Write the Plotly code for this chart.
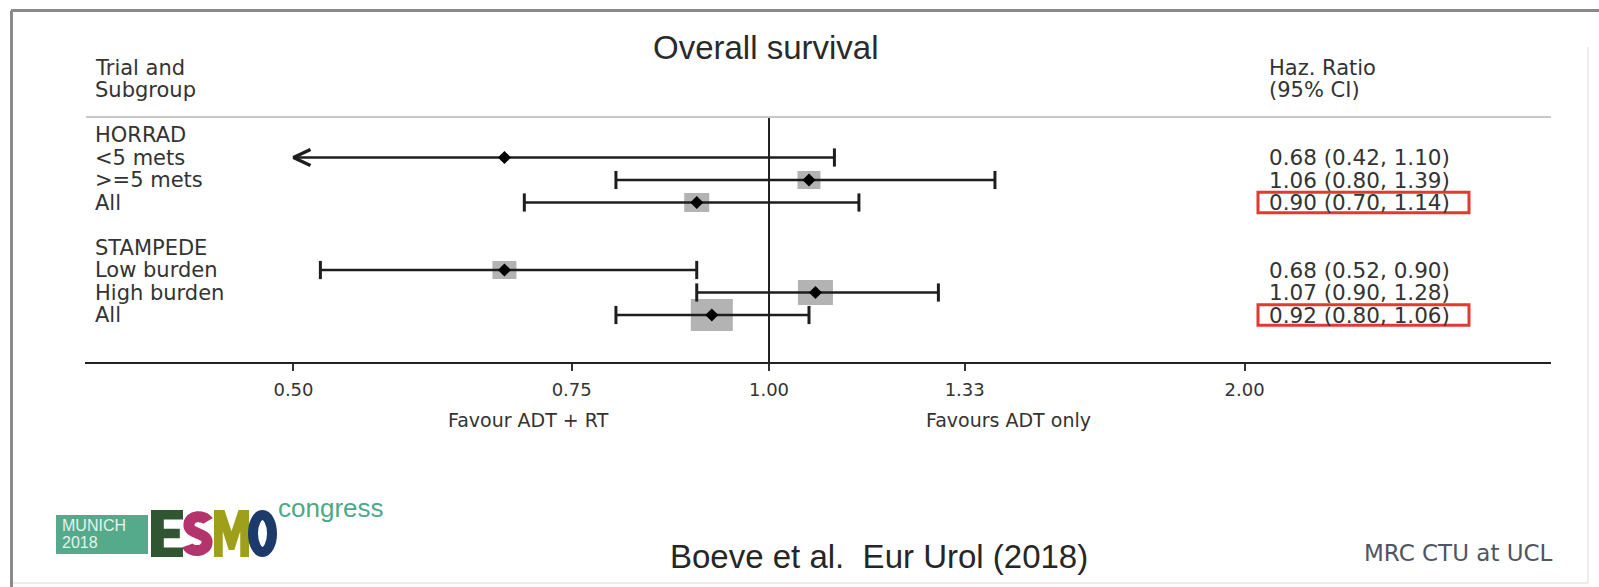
import numpy as np
import plotly.graph_objects as go

# ---- data -------------------------------------------------------------
row_labels = ["HORRAD", "<5 mets", ">=5 mets", "All", "",
              "STAMPEDE", "Low burden", "High burden", "All"]
est_rows = [2, 3, 4, 7, 8, 9]               # rows that carry an estimate
hazard_ratio = [0.68, 1.06, 0.90, 0.68, 1.07, 0.92]
ci_low = [0.42, 0.80, 0.70, 0.52, 0.90, 0.80]
ci_high = [1.10, 1.39, 1.14, 0.90, 1.28, 1.06]
pooled = [False, False, True, False, False, True]
tick_values = [0.50, 0.75, 1.00, 1.33, 2.00]
tick_labels = ["0.50", "0.75", "1.00", "1.33", "2.00"]

# ---- styling ----------------------------------------------------------
box_w_px = [8, 23, 25, 24, 35, 42]           # weight boxes (pixels)
box_h_px = [6, 18, 19, 18, 25, 32]
CLIP_LO = 0.50                               # CIs below this get an arrow

W, H = 1599, 587
ML, MR, MT, MB = 85, 48, 117, 225
PW, PH = W - ML - MR, H - MT - MB
XR = [-0.433, 0.495]                         # log10 axis range
ROW_PX = 22.5
Y_TOP = 1 - (135 - MT) / ROW_PX
Y_BOT = 1 + (H - MB - 135) / ROW_PX
PX_LN = PW / (np.log(10) * (XR[1] - XR[0]))  # pixels per ln unit

LINE = "#1e1e1e"
TXT = "#333333"
LBL_FONT = dict(family="DejaVu Sans", size=21, color=TXT)
HR_FONT = dict(family="DejaVu Sans", size=21.5, color=TXT)
HR_COL = 1267


def X(px):
    return (px - ML) / PW


def Y(py):
    return 1 - (py - MT) / PH


def poly(points, box):
    """Polygon given in unit coordinates, mapped into a pixel box."""
    x0, x1, y0, y1 = box
    pts = [(x0 + u * (x1 - x0), y0 + v * (y1 - y0)) for u, v in points]
    return "M " + " L ".join(f"{X(a):.5f},{Y(b):.5f}" for a, b in pts) + " Z"


def curve(points, box):
    """Cubic Bezier chain in unit coordinates, mapped into a pixel box."""
    x0, x1, y0, y1 = box
    pts = [(X(x0 + u * (x1 - x0)), Y(y0 + v * (y1 - y0))) for u, v in points]
    s = f"M {pts[0][0]:.5f},{pts[0][1]:.5f}"
    for k in range(1, len(pts), 3):
        s += " C " + " ".join(f"{a:.5f},{b:.5f}" for a, b in pts[k:k + 3])
    return s


fig = go.Figure()

# weight boxes
for r, hr, bw, bh in zip(est_rows, hazard_ratio, box_w_px, box_h_px):
    f = np.exp(bw / 2 / PX_LN)
    hh = bh / 2 / ROW_PX
    fig.add_trace(go.Scatter(
        x=[hr / f, hr * f, hr * f, hr / f, hr / f],
        y=[r - hh, r - hh, r + hh, r + hh, r - hh],
        mode="lines", fill="toself", fillcolor="#b3b3b3",
        line=dict(width=0), hoverinfo="skip", showlegend=False))

# confidence interval whiskers, caps and clipping arrows
for r, hr, lo, hi in zip(est_rows, hazard_ratio, ci_low, ci_high):
    x0 = max(lo, CLIP_LO)
    fig.add_trace(go.Scatter(
        x=[x0, hi], y=[r, r], mode="lines",
        line=dict(color=LINE, width=2.6), hoverinfo="skip", showlegend=False))
    caps = [hi] if lo < CLIP_LO else [lo, hi]
    fig.add_trace(go.Scatter(
        x=caps, y=[r] * len(caps), mode="markers",
        marker=dict(symbol="line-ns", size=13, line=dict(color=LINE, width=3)),
        hoverinfo="skip", showlegend=False))
    if lo < CLIP_LO:
        a = CLIP_LO * np.exp(17 / PX_LN)
        dy = 8 / ROW_PX
        fig.add_trace(go.Scatter(
            x=[a, CLIP_LO, a], y=[r - dy, r, r + dy], mode="lines",
            line=dict(color=LINE, width=3.5), hoverinfo="skip",
            showlegend=False))

# point estimates
fig.add_trace(go.Scatter(
    x=hazard_ratio, y=est_rows, mode="markers",
    marker=dict(symbol="diamond", size=10, color="#000000"),
    hoverinfo="skip", showlegend=False))

# line of no effect
fig.add_trace(go.Scatter(
    x=[1, 1], y=[Y_TOP, Y_BOT], mode="lines",
    line=dict(color=LINE, width=2), hoverinfo="skip", showlegend=False))

ann = []
shapes = []

# left column labels
for i, lab in enumerate(row_labels):
    if lab:
        ann.append(dict(x=X(93), xref="paper", y=i + 1, yref="y",
                        text=lab.replace("<", "&lt;").replace(">", "&gt;"),
                        showarrow=False, xanchor="left", yanchor="middle",
                        font=LBL_FONT))

# hazard ratio column
for r, hr, lo, hi, pool in zip(est_rows, hazard_ratio, ci_low, ci_high, pooled):
    ann.append(dict(x=X(HR_COL), xref="paper", y=r, yref="y",
                    text=f"{hr:.2f} ({lo:.2f}, {hi:.2f})",
                    showarrow=False, xanchor="left", yanchor="middle",
                    font=HR_FONT))
    if pool:
        shapes.append(dict(type="rect", xref="paper", yref="y",
                           x0=X(1258), x1=X(1469), y0=r - 0.46, y1=r + 0.46,
                           line=dict(color="#e03a32", width=3)))

# column headers (above the plotting area)
for txt, xp, yp in [("Trial and", 93, 68), ("Subgroup", 93, 90),
                    ("Haz. Ratio", HR_COL, 68), ("(95% CI)", HR_COL, 90)]:
    ann.append(dict(x=X(xp), xref="paper", y=Y(yp), yref="paper", text=txt,
                    showarrow=False, xanchor="left", yanchor="middle",
                    font=LBL_FONT))

# title
ann.append(dict(x=X(766), xref="paper", y=Y(48), yref="paper",
                text="Overall survival", showarrow=False,
                xanchor="center", yanchor="middle",
                font=dict(family="Liberation Sans", size=33, color="#2a2a2a")))

# direction labels under the axis
for txt, sh in [("Favour ADT + RT", -241), ("Favours ADT only", 239)]:
    ann.append(dict(x=0, xref="x", y=Y(420), yref="paper", xshift=sh,
                    text=txt, showarrow=False, xanchor="center",
                    yanchor="middle",
                    font=dict(family="DejaVu Sans", size=19, color=TXT)))

# footer
ann.append(dict(x=X(879), xref="paper", y=Y(556), yref="paper",
                text="Boeve et al.  Eur Urol (2018)", showarrow=False,
                xanchor="center", yanchor="middle",
                font=dict(family="Liberation Sans", size=33, color="#262626")))
ann.append(dict(x=X(1555), xref="paper", y=Y(553), yref="paper",
                text="MRC CTU at UCL", showarrow=False,
                xanchor="right", yanchor="middle",
                font=dict(family="DejaVu Sans", size=23, color="#505562")))

# congress logo
shapes.append(dict(type="rect", xref="paper", yref="paper",
                   x0=X(56), x1=X(148), y0=Y(554), y1=Y(515),
                   fillcolor="#55aa8b", line=dict(width=0)))
for txt, yp in [("MUNICH", 525), ("2018", 542)]:
    ann.append(dict(x=X(60), xref="paper", y=Y(yp), yref="paper", text=txt,
                    showarrow=False, xanchor="left", yanchor="middle",
                    font=dict(family="Liberation Sans", size=16,
                              color="#e2f3ec")))
E_PTS = [(0, 0), (1, 0), (1, .2), (.4, .2), (.4, .4), (.9, .4), (.9, .6),
         (.4, .6), (.4, .8), (1, .8), (1, 1), (0, 1)]
S_PTS = [(.88, .16), (.75, .0), (.15, -.02), (.15, .28), (.15, .52),
         (.85, .48), (.85, .72), (.85, 1.02), (.2, 1.02), (.1, .82)]
M_PTS = [(0, 1), (0, 0), (.3, 0), (.5, .45), (.7, 0), (1, 0), (1, 1),
         (.75, 1), (.75, .45), (.58, .85), (.42, .85), (.25, .45), (.25, 1)]
shapes.append(dict(type="path", xref="paper", yref="paper",
                   path=poly(E_PTS, (151, 183, 510, 557)),
                   fillcolor="#2f5631", line=dict(width=0)))
shapes.append(dict(type="path", xref="paper", yref="paper",
                   path=curve(S_PTS, (185, 211, 515, 552)),
                   line=dict(color="#b3346c", width=11)))
shapes.append(dict(type="path", xref="paper", yref="paper",
                   path=poly(M_PTS, (214, 249, 510, 557)),
                   fillcolor="#9ea01c", line=dict(width=0)))
shapes.append(dict(type="circle", xref="paper", yref="paper",
                   x0=X(253), x1=X(272), y0=Y(552), y1=Y(515),
                   line=dict(color="#1d3b6a", width=10)))
ann.append(dict(x=X(276), xref="paper", y=Y(508), yref="paper",
                text="congress", showarrow=False, xanchor="left",
                yanchor="middle",
                font=dict(family="Liberation Sans", size=26, color="#4da88a")))

# header rule
shapes.append(dict(type="line", xref="paper", yref="paper",
                   x0=X(86), x1=X(1551), y0=1, y1=1,
                   line=dict(color="#c8c8c8", width=2)))

# slide frame
frame_dark = dict(color="#8a8a8a", width=3)
frame_light = dict(color="#e6e6e6", width=1.5)
shapes += [
    dict(type="line", xref="paper", yref="paper", x0=X(11), x1=X(1599),
         y0=Y(10.5), y1=Y(10.5), line=frame_dark),
    dict(type="line", xref="paper", yref="paper", x0=X(11.5), x1=X(11.5),
         y0=Y(10.5), y1=Y(587), line=frame_dark),
    dict(type="line", xref="paper", yref="paper", x0=X(1588), x1=X(1588),
         y0=Y(47), y1=Y(583), line=frame_light),
    dict(type="line", xref="paper", yref="paper", x0=X(13), x1=X(1588),
         y0=Y(583), y1=Y(583), line=frame_light),
]

fig.update_layout(
    width=W, height=H,
    margin=dict(l=ML, r=MR, t=MT, b=MB, pad=0),
    paper_bgcolor="white", plot_bgcolor="white",
    showlegend=False,
    annotations=ann, shapes=shapes,
    xaxis=dict(type="log", range=XR, tickvals=tick_values,
               ticktext=tick_labels, showgrid=False, zeroline=False,
               showline=True, linecolor="#222222", linewidth=2,
               ticks="outside", ticklen=7, tickwidth=2, tickcolor="#333333",
               ticklabelstandoff=3,
               tickfont=dict(family="DejaVu Sans", size=18, color=TXT),
               fixedrange=True),
    yaxis=dict(range=[Y_BOT, Y_TOP], visible=False, fixedrange=True),
)

fig.write_html("out.html")
